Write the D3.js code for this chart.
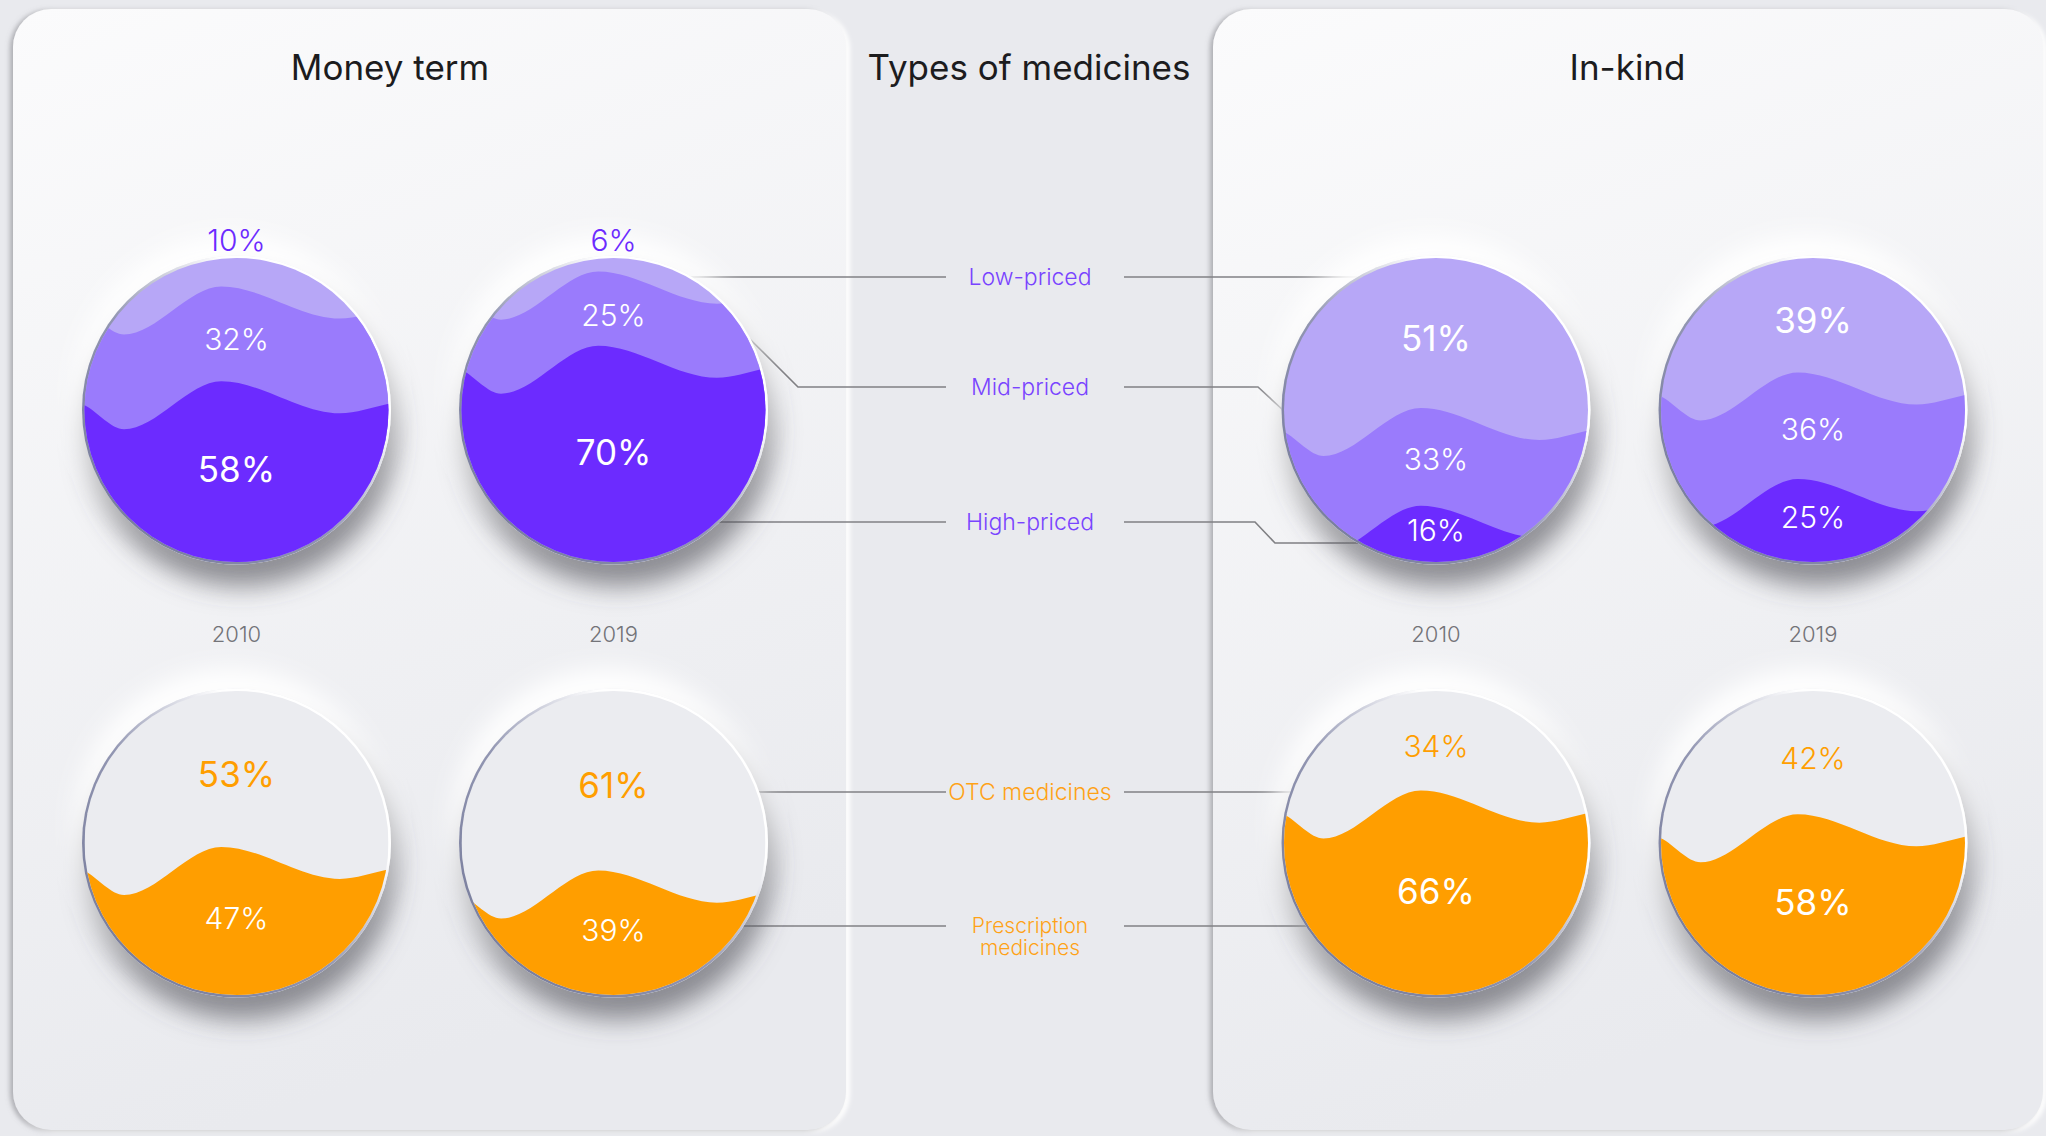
<!DOCTYPE html>
<html>
<head>
<meta charset="utf-8">
<script src="https://cdn.jsdelivr.net/npm/d3@7"></script>
<style>
  body { margin: 0; background: #e9eaee; }
  svg { display: block; font-family: Inter, "Noto Sans", sans-serif; }
</style>
</head>
<body>
<svg id="chart" width="2046" height="1136"></svg>
<script>
'use strict';
// wave "liquid" circles: price segments and OTC / prescription split

var groups = ["Money term", "In-kind"];
var years = ["2010", "2019"];
var rows = ["price", "rx"];

// stacked from the bottom of each circle
var priceKeys = ["High-priced", "Mid-priced", "Low-priced"];
var priceMoney2010 = [58, 32, 10];
var priceMoney2019 = [70, 25, 6];
var priceInKind2010 = [16, 33, 51];
var priceInKind2019 = [25, 36, 39];

var rxKeys = ["Prescription medicines", "OTC medicines"];
var rxMoney2010 = [47, 53];
var rxMoney2019 = [39, 61];
var rxInKind2010 = [66, 34];
var rxInKind2019 = [58, 42];

var centerTitle = "Types of medicines";

var values = {
  "price": {"Money term": {"2010": priceMoney2010, "2019": priceMoney2019},
            "In-kind": {"2010": priceInKind2010, "2019": priceInKind2019}},
  "rx": {"Money term": {"2010": rxMoney2010, "2019": rxMoney2019},
         "In-kind": {"2010": rxInKind2010, "2019": rxInKind2019}}
};

var priceColors = ["#6c2bff", "#9a7bfc", "#b7a7f7"];
var rxColors = ["#ff9e00", "#ebecf0"];
var priceLegendColor = "#7944ff";
var rxLegendColor = "#ffa216";

var svg = d3.select("#chart");
var W = 2046, H = 1136;
var r = 152;

// scales
var xGroup = d3.scalePoint().domain(groups).range([425, 1624.5]);
var xYear = d3.scalePoint().domain(years).range([-188.5, 188.5]);
var yRow = d3.scalePoint().domain(rows).range([410, 843]);
var level = d3.scaleLinear().domain([0, 100]).range([1.1 * r, -0.85 * r]);
var labelPos = d3.scaleLinear().domain([0, 100]).range([0.94 * r, -0.96 * r]);

// wave shape (relative to radius)
var waveU = [-1.45, -1.0, -0.74, -0.1, 0.68, 1.0, 1.45];
var waveV = [-0.12, 0.0, 0.158, -0.158, 0.053, -0.01, -0.12];

var defs = svg.append("defs");

var pg = defs.append("linearGradient").attr("id", "panelGrad")
    .attr("x1", 0).attr("y1", 0).attr("x2", 0.25).attr("y2", 1);
pg.append("stop").attr("offset", "0%").attr("stop-color", "#fbfbfc");
pg.append("stop").attr("offset", "100%").attr("stop-color", "#e9eaee");

var rim = defs.append("linearGradient").attr("id", "rimGrad")
    .attr("x1", 0).attr("y1", 1).attr("x2", 1).attr("y2", 0);
rim.append("stop").attr("offset", "0%").attr("stop-color", "#6f7494");
rim.append("stop").attr("offset", "45%").attr("stop-color", "#9296b2");
rim.append("stop").attr("offset", "72%").attr("stop-color", "#ffffff");
rim.append("stop").attr("offset", "100%").attr("stop-color", "#ffffff");

var pf = defs.append("filter").attr("id", "panelShadow")
    .attr("x", "-5%").attr("y", "-5%").attr("width", "110%").attr("height", "110%");
pf.append("feGaussianBlur").attr("in", "SourceAlpha").attr("stdDeviation", 2.5).attr("result", "b1");
pf.append("feOffset").attr("in", "b1").attr("dx", -3).attr("dy", 1).attr("result", "o1");
pf.append("feFlood").attr("flood-color", "#7a7a80").attr("flood-opacity", 0.55);
pf.append("feComposite").attr("in2", "o1").attr("operator", "in").attr("result", "s1");
pf.append("feGaussianBlur").attr("in", "SourceAlpha").attr("stdDeviation", 2).attr("result", "b2");
pf.append("feOffset").attr("in", "b2").attr("dx", 4).attr("dy", 2).attr("result", "o2");
pf.append("feFlood").attr("flood-color", "#ffffff").attr("flood-opacity", 1);
pf.append("feComposite").attr("in2", "o2").attr("operator", "in").attr("result", "s2");
var pm = pf.append("feMerge");
pm.append("feMergeNode").attr("in", "s2");
pm.append("feMergeNode").attr("in", "s1");
pm.append("feMergeNode").attr("in", "SourceGraphic");

var cf = defs.append("filter").attr("id", "circleShadow")
    .attr("x", "-50%").attr("y", "-50%").attr("width", "200%").attr("height", "200%");
cf.append("feGaussianBlur").attr("in", "SourceAlpha").attr("stdDeviation", 13).attr("result", "b1");
cf.append("feOffset").attr("in", "b1").attr("dx", 5).attr("dy", 22).attr("result", "o1");
cf.append("feFlood").attr("flood-color", "#4e4e56").attr("flood-opacity", 0.62);
cf.append("feComposite").attr("in2", "o1").attr("operator", "in").attr("result", "s1");
cf.append("feGaussianBlur").attr("in", "SourceAlpha").attr("stdDeviation", 12).attr("result", "b2");
cf.append("feOffset").attr("in", "b2").attr("dx", -6).attr("dy", -20).attr("result", "o2");
cf.append("feFlood").attr("flood-color", "#ffffff").attr("flood-opacity", 1);
cf.append("feComposite").attr("in2", "o2").attr("operator", "in").attr("result", "s2");
var cm = cf.append("feMerge");
cm.append("feMergeNode").attr("in", "s2");
cm.append("feMergeNode").attr("in", "s1");
cm.append("feMergeNode").attr("in", "SourceGraphic");

// background + panels
svg.append("rect").attr("width", W).attr("height", H).attr("fill", "#e9eaee");
svg.selectAll("rect.panel")
  .data(groups)
  .enter().append("rect")
    .attr("class", "panel")
    .attr("x", function(d) { return d == "Money term" ? 13 : 1213; })
    .attr("y", 9)
    .attr("width", function(d) { return d == "Money term" ? 833 : 830; })
    .attr("height", 1121)
    .attr("rx", 38)
    .attr("fill", "url(#panelGrad)")
    .attr("filter", "url(#panelShadow)");

// titles
svg.selectAll("text.title")
  .data(groups)
  .enter().append("text")
    .attr("class", "title")
    .attr("x", function(d) { return d == "Money term" ? 390 : xGroup(d) + 3; })
    .attr("y", 67)
    .attr("text-anchor", "middle")
    .attr("dominant-baseline", "central")
    .style("font-size", "35px")
    .style("fill", "#1c1c1e")
    .text(function(d) { return d; });

svg.append("text")
    .attr("x", 1029).attr("y", 67)
    .attr("text-anchor", "middle")
    .attr("dominant-baseline", "central")
    .style("font-size", "35px")
    .style("fill", "#1c1c1e")
    .text(centerTitle);

// year labels
groups.forEach(function(g) {
  years.forEach(function(yr) {
    svg.append("text")
      .attr("x", xGroup(g) + xYear(yr))
      .attr("y", 634)
      .attr("text-anchor", "middle")
      .attr("dominant-baseline", "central")
      .style("font-size", "22px")
      .style("font-weight", 300)
      .style("fill", "#737378")
      .text(yr);
  });
});

// leader lines
var xL = 946, xR = 1124;
function onCircle(cx, cy, y, side) {
  var dy = y - cy;
  return [cx + side * Math.sqrt(r * r - dy * dy), y];
}
var lc = xGroup("Money term") + xYear("2019");
var rc = xGroup("In-kind") + xYear("2010");
var leaders = [
  {text: ["Low-priced"], color: priceLegendColor, y: 277,
   left: [onCircle(lc, yRow("price"), 277, 1), [xL, 277]],
   right: [[xR, 277], onCircle(rc, yRow("price"), 277, -1)]},
  {text: ["Mid-priced"], color: priceLegendColor, y: 387,
   left: [onCircle(lc, yRow("price"), 335, 1), [798, 387], [xL, 387]],
   right: [[xR, 387], [1258, 387], onCircle(rc, yRow("price"), 411, -1)]},
  {text: ["High-priced"], color: priceLegendColor, y: 522,
   left: [onCircle(lc, yRow("price"), 522, 1), [xL, 522]],
   right: [[xR, 522], [1255, 522], [1275, 543], onCircle(rc, yRow("price"), 543, -1)]},
  {text: ["OTC medicines"], color: rxLegendColor, y: 792,
   left: [onCircle(lc, yRow("rx"), 792, 1), [xL, 792]],
   right: [[xR, 792], onCircle(rc, yRow("rx"), 792, -1)]},
  {text: ["Prescription", "medicines"], color: rxLegendColor, y: 925,
   left: [onCircle(lc, yRow("rx"), 926, 1), [xL, 926]],
   right: [[xR, 926], onCircle(rc, yRow("rx"), 926, -1)]}
];
var line = d3.line();
var lg = svg.append("g");
leaders.forEach(function(d) {
  [d.left, d.right].forEach(function(pts) {
    lg.append("path").attr("d", line(pts))
      .attr("fill", "none").attr("stroke", "#808084").attr("stroke-width", 1.6);
  });
  var multi = d.text.length > 1;
  d.text.forEach(function(s, i) {
    lg.append("text")
      .attr("x", 1030).attr("y", d.y + i * 22)
      .attr("text-anchor", "middle")
      .attr("dominant-baseline", "central")
      .style("font-size", multi ? "21px" : "23px")
      .style("font-weight", 300)
      .style("fill", d.color)
      .text(s);
  });
});

// circles
var area = d3.area().curve(d3.curveMonotoneX);
var idx = 0;
rows.forEach(function(row) {
  var colors = row == "price" ? priceColors : rxColors;
  groups.forEach(function(g) {
    years.forEach(function(yr) {
      var vals = values[row][g][yr];
      var cx = xGroup(g) + xYear(yr), cy = yRow(row);
      var id = "clip" + (idx++);
      var grp = svg.append("g");

      defs.append("clipPath").attr("id", id)
        .append("circle").attr("cx", cx).attr("cy", cy).attr("r", r);

      grp.append("circle").attr("cx", cx).attr("cy", cy).attr("r", r + 2.5)
        .attr("fill", "#ebecf0").attr("filter", "url(#circleShadow)");
      grp.append("circle").attr("cx", cx).attr("cy", cy).attr("r", r + 2.5)
        .attr("fill", "url(#rimGrad)");

      var inner = grp.append("g").attr("clip-path", "url(#" + id + ")");
      // top band fills the whole circle, lower bands drawn on top of it
      inner.append("rect").attr("x", cx - r).attr("y", cy - r)
        .attr("width", 2 * r).attr("height", 2 * r)
        .attr("fill", colors[vals.length - 1]);
      var cum = d3.cumsum(vals);
      for (var k = vals.length - 2; k >= 0; k--) {
        var lv = level(cum[k]);
        var pts = waveU.map(function(u, i) { return [cx + u * r, cy + lv + waveV[i] * r]; });
        inner.append("path")
          .attr("d", area.x(function(p) { return p[0]; }).y0(cy + r + 10).y1(function(p) { return p[1]; })(pts))
          .attr("fill", colors[k]);
      }

      // value labels
      var maxV = d3.max(vals);
      vals.forEach(function(v, k) {
        var start = k == 0 ? 0 : cum[k - 1];
        var outside = v < 12;
        var ty = outside ? cy - r - 18 : cy + labelPos((start + Math.min(cum[k], 100)) / 2);
        var fill = "#ffffff";
        if (outside) fill = priceColors[0];
        else if (row == "rx" && k == 1) fill = rxColors[0];
        grp.append("text")
          .attr("x", cx).attr("y", ty)
          .attr("text-anchor", "middle")
          .attr("dominant-baseline", "central")
          .style("font-size", v == maxV ? "35px" : "30px")
          .style("font-weight", v == maxV ? 400 : 300)
          .style("fill", fill)
          .text(v + "%");
      });
    });
  });
});
</script>
</body>
</html>
